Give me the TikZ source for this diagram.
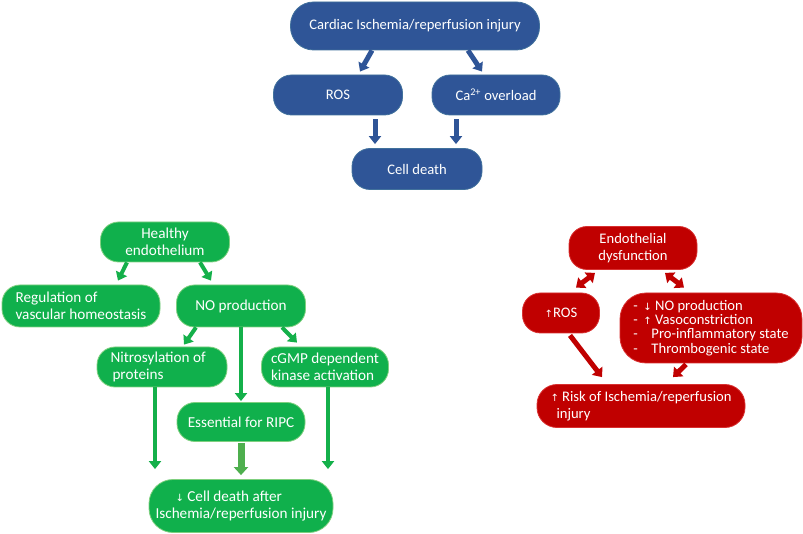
\documentclass[tikz,border=0pt]{standalone}
\usepackage{fontspec}
\setmainfont{Carlito}
\newfontfamily\arrowfont{DejaVu Sans}
\usetikzlibrary{arrows.meta}
\definecolor{bfill}{HTML}{2F5597}
\definecolor{bline}{HTML}{41719C}
\definecolor{gfill}{HTML}{10B04C}
\definecolor{gline}{HTML}{7FD07F}
\definecolor{garr}{HTML}{14B04A}
\definecolor{garrlight}{HTML}{4EAF4E}
\definecolor{rfill}{HTML}{C00000}
\definecolor{rline}{HTML}{D83030}
\newcommand{\up}{{\arrowfont\fontsize{10}{10}\selectfont ↑}}
\newcommand{\down}{{\arrowfont\fontsize{10}{10}\selectfont ↓}}
\begin{document}
\begin{tikzpicture}[x=1pt,y=-1pt,
  box/.style={rounded corners=18pt, inner sep=2pt, text=white,
    font=\fontsize{14.6}{16.5}\selectfont, align=center},
  bbox/.style={box, fill=bfill, draw=bline, line width=0.8pt},
  gbox/.style={box, fill=gfill, draw=gline, line width=0.8pt, font=\fontsize{15.2}{17}\selectfont},
  rbox/.style={box, fill=rfill, draw=rline, line width=0.8pt},
  barr/.style={draw=bfill, line width=5pt, -{Triangle[width=12pt,length=8pt]}},
  garrow/.style={draw=garr, line width=4pt, -{Triangle[width=12pt,length=8pt]}},
  garrowl/.style={draw=garrlight, line width=7pt, -{Triangle[width=14pt,length=8pt]}},
  rarr/.style={draw=rfill, line width=5pt, {Triangle[width=13pt,length=8pt]}-{Triangle[width=13pt,length=8pt]}},
  rarr1/.style={draw=rfill, line width=5pt, -{Triangle[width=13pt,length=8pt]}}
]
\useasboundingbox (0,0) rectangle (803,534);

% blue
\node[bbox, minimum width=249pt, minimum height=48pt, rounded corners=23pt] (top) at (415,26) {Cardiac Ischemia/reperfusion injury};
\node[bbox, minimum width=129pt, minimum height=40pt] (ros) at (338,95) {ROS};
\node[bbox, minimum width=128pt, minimum height=40pt] (ca) at (496,95) {Ca\textsuperscript{2+} overload};
\node[bbox, minimum width=130pt, minimum height=41pt] (cd) at (417,169) {Cell death};

\draw[barr] ([xshift=-43pt]top.south) -- ([xshift=22pt,yshift=3pt]ros.north);
\draw[barr] ([xshift=53pt]top.south) -- ([xshift=-14pt,yshift=3pt]ca.north);
\draw[barr] ([xshift=37pt,yshift=-4pt]ros.south) -- ([xshift=-42pt,yshift=4pt]cd.north);
\draw[barr] ([xshift=-40pt,yshift=-4pt]ca.south) -- ([xshift=39pt,yshift=4pt]cd.north);

% green
\node[gbox, minimum width=129pt, minimum height=40pt] (he) at (165,242) {Healthy\\endothelium};
\node[gbox, minimum width=158pt, minimum height=42pt, align=left] (reg) at (81,306) {Regulation of\\vascular homeostasis};
\node[gbox, minimum width=129pt, minimum height=42pt] (no) at (241,306) {NO production};
\node[gbox, minimum width=130pt, minimum height=40pt, align=left] (nit) at (162,367) {Nitrosylation of\\\hspace*{2pt}proteins\hspace*{50pt}};
\node[gbox, minimum width=127pt, minimum height=40pt, align=left] (cg) at (325,367) {cGMP dependent\\kinase activation};
\node[gbox, minimum width=128pt, minimum height=39pt] (ess) at (241,422) {Essential for RIPC};
\node[gbox, minimum width=184pt, minimum height=53pt, rounded corners=24pt, align=left] (gcd) at (241,506) {\hspace*{20pt}\down\ Cell death after\\Ischemia/reperfusion injury};

\draw[garrow] ([xshift=-38pt]he.south) -- ([xshift=37pt,yshift=4pt]reg.north);
\draw[garrow] ([xshift=35pt]he.south) -- ([xshift=-30pt,yshift=4pt]no.north);
\draw[garrow] ([xshift=-45pt]no.south) -- ([xshift=22pt,yshift=2pt]nit.north);
\draw[garrow] ([xshift=41pt]no.south) -- ([xshift=-28pt,yshift=4pt]cg.north);
\draw[garrow] (no.south) -- ([yshift=1pt]ess.north);
\draw[garrow] ([xshift=-7pt]nit.south) -- ([xshift=-7pt,yshift=10pt]nit.south |- gcd.north);
\draw[garrow] ([xshift=3pt]cg.south) -- ([xshift=3pt,yshift=10pt]cg.south |- gcd.north);
\draw[garrowl] ([yshift=-1pt]ess.south) -- ([yshift=4pt]gcd.north);

% red
\node[rbox, minimum width=128pt, minimum height=43pt] (ed) at (633,248) {Endothelial\\dysfunction};
\node[rbox, minimum width=77pt, minimum height=40pt] (rros) at (561,313) {\up ROS};
\node[rbox, minimum width=182pt, minimum height=70pt, rounded corners=26pt, align=left,
  font=\fontsize{14.6}{14.2}\selectfont] (lst) at (711,328)
  {\makebox[10pt][l]{-}\down\ NO production\\
   \makebox[10pt][l]{-}\up\ Vasoconstriction\\
   \makebox[18pt][l]{-}Pro-inflammatory state\\
   \makebox[18pt][l]{-}Thrombogenic state};
\node[rbox, minimum width=208pt, minimum height=43pt, rounded corners=20pt, align=left] (risk) at (641,406) {\up\ Risk of Ischemia/reperfusion\\\hspace*{6pt}injury\hspace*{140pt}};

\draw[rarr] ([xshift=-38pt,yshift=-3pt]ed.south) -- ([xshift=15pt,yshift=5pt]rros.north);
\draw[rarr] ([xshift=32pt,yshift=-3pt]ed.south) -- ([xshift=-27pt,yshift=5pt]lst.north);
\draw[rarr1] ([xshift=9pt,yshift=-2pt]rros.south) -- ([xshift=-39pt,yshift=7pt]risk.north);
\draw[rarr1] ([xshift=-25pt,yshift=-1pt]lst.south) -- ([xshift=32pt,yshift=7pt]risk.north);
\end{tikzpicture}
\end{document}
